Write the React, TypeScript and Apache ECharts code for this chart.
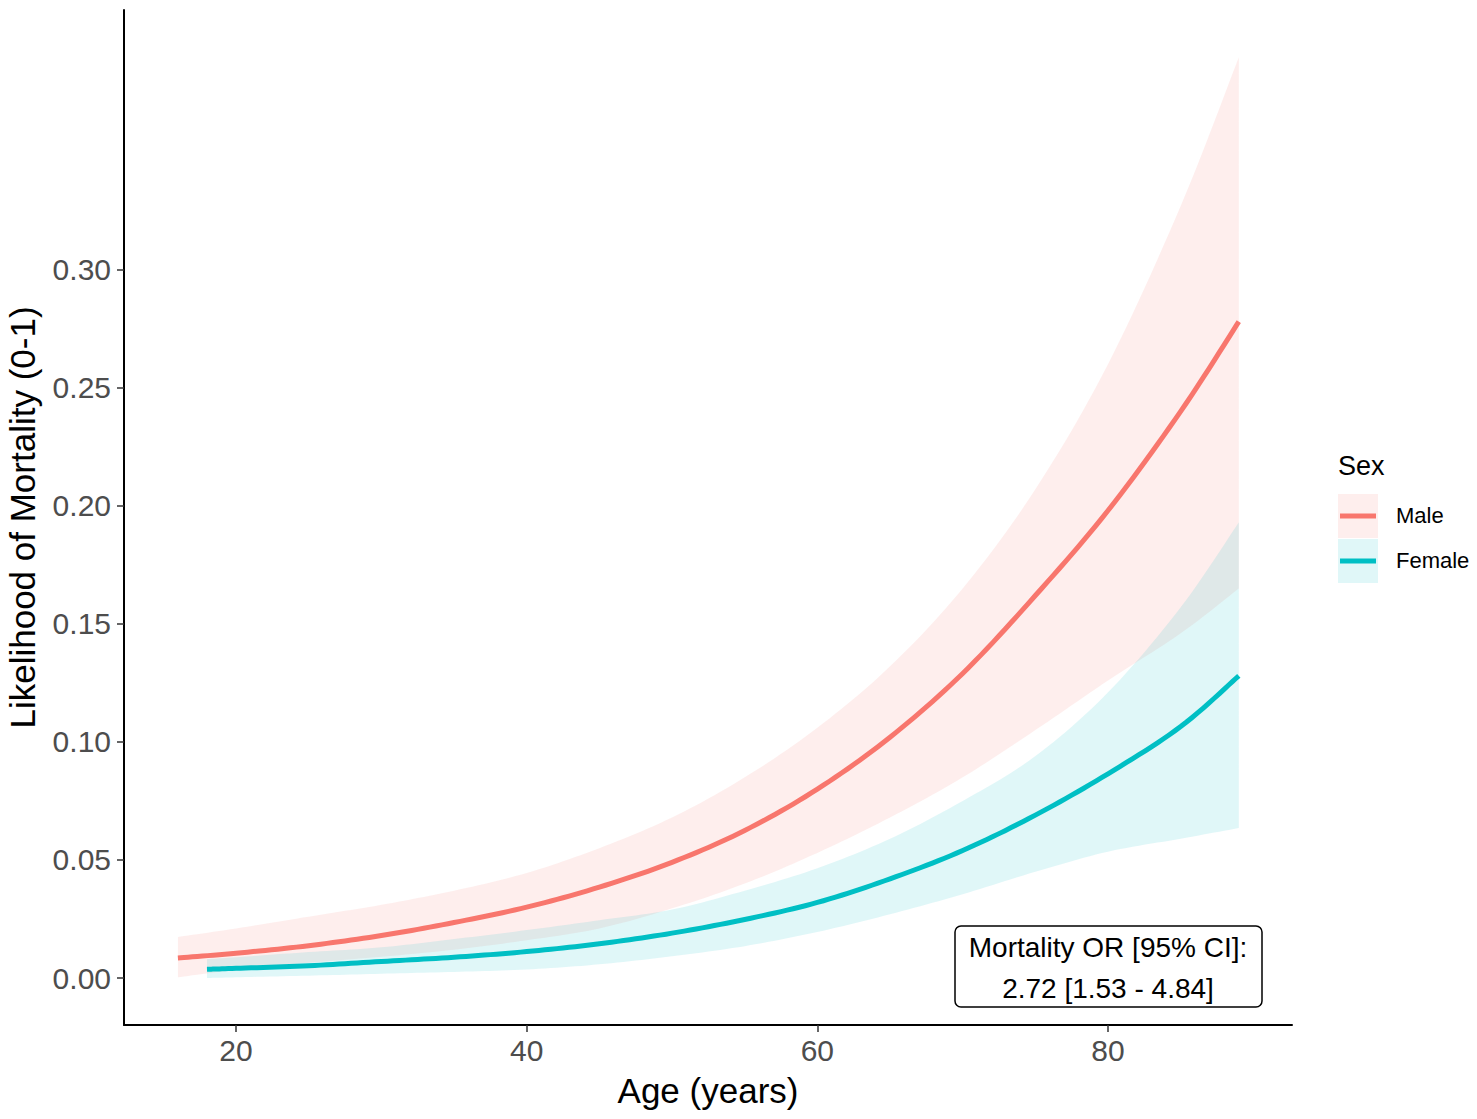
import React, { useEffect, useRef } from "react";
import * as echarts from "echarts";

// ---- data ----
const maleAges = [16, 20, 25, 30, 35, 40, 45, 50, 55, 60, 65, 70, 75, 80, 85, 89];
const maleFit = [0.0085, 0.0105, 0.0137, 0.018, 0.0235, 0.03, 0.0385, 0.049, 0.0625, 0.08, 0.102, 0.129, 0.162, 0.198, 0.24, 0.278];
const maleUpper = [0.0174, 0.021, 0.026, 0.031, 0.037, 0.0445, 0.055, 0.068, 0.085, 0.106, 0.132, 0.165, 0.207, 0.26, 0.327, 0.39];
const maleLower = [0.0003, 0.0035, 0.0065, 0.009, 0.012, 0.016, 0.021, 0.0295, 0.04, 0.053, 0.068, 0.085, 0.105, 0.126, 0.146, 0.165];

const femaleAges = [18, 20, 25, 30, 35, 40, 45, 50, 55, 60, 65, 70, 75, 80, 85, 89];
const femaleFit = [0.0037, 0.0041, 0.0052, 0.007, 0.0088, 0.0112, 0.0145, 0.019, 0.0248, 0.032, 0.042, 0.054, 0.069, 0.0865, 0.1065, 0.128];
const femaleUpper = [0.008, 0.0088, 0.011, 0.013, 0.0165, 0.0203, 0.0245, 0.029, 0.037, 0.0465, 0.059, 0.075, 0.094, 0.121, 0.157, 0.193];
const femaleLower = [0.0, 0.0003, 0.001, 0.0018, 0.0026, 0.0036, 0.0058, 0.0092, 0.0135, 0.0195, 0.027, 0.0355, 0.045, 0.0535, 0.059, 0.0635];

const xTicks = [20, 40, 60, 80];
const yTicks = [0, 0.05, 0.1, 0.15, 0.2, 0.25, 0.3];

const MALE = "#F8766D";
const FEMALE = "#00BFC4";
const MALE_FILL = "rgba(248,118,109,0.12)";
const FEMALE_FILL = "rgba(0,191,196,0.12)";
const FONT = "'Liberation Sans', Arial, sans-serif";

// Catmull-Rom curve through pixel points (rendering only: smooth outline of a band or line)
function curve(pts: number[][], steps = 12): number[][] {
  const out: number[][] = [];
  for (let i = 0; i < pts.length - 1; i++) {
    const p0 = pts[i - 1] || pts[i];
    const p1 = pts[i];
    const p2 = pts[i + 1];
    const p3 = pts[i + 2] || pts[i + 1];
    for (let s = 0; s < steps; s++) {
      const t = s / steps;
      const t2 = t * t;
      const t3 = t2 * t;
      const f = (a: number, b: number, c: number, d: number) =>
        0.5 * (2 * b + (-a + c) * t + (2 * a - 5 * b + 4 * c - d) * t2 + (-a + 3 * b - 3 * c + d) * t3);
      out.push([f(p0[0], p1[0], p2[0], p3[0]), f(p0[1], p1[1], p2[1], p3[1])]);
    }
  }
  out.push(pts[pts.length - 1]);
  return out;
}

function ribbon(name: string, ages: number[], lower: number[], upper: number[], fill: string) {
  return {
    type: "custom",
    name,
    silent: true,
    z: 1,
    data: [[ages[0], lower[0]]],
    renderItem: (_params: any, api: any) => {
      const up = curve(ages.map((a, i) => api.coord([a, upper[i]])));
      const lo = curve(ages.map((a, i) => api.coord([a, lower[i]])));
      const pts = up.concat(lo.reverse());
      return { type: "polygon", shape: { points: pts }, style: { fill, stroke: "none" } };
    },
  };
}

function fitLine(name: string, ages: number[], vals: number[], color: string) {
  return {
    type: "custom",
    name,
    silent: true,
    z: 3,
    data: [[ages[0], vals[0]]],
    renderItem: (_params: any, api: any) => {
      const pts = curve(ages.map((a, i) => api.coord([a, vals[i]])));
      return {
        type: "polyline",
        shape: { points: pts },
        style: { stroke: color, lineWidth: 5, fill: "none", lineCap: "butt", lineJoin: "round" },
      };
    },
  };
}

export default function App() {
  const ref = useRef<HTMLDivElement>(null);
  useEffect(() => {
    if (!ref.current) return;
    const chart = echarts.init(ref.current, undefined, { renderer: "svg" });
    const axisText = { color: "#4D4D4D", fontSize: 30, fontFamily: FONT };
    chart.setOption({
      animation: false,
      backgroundColor: "#ffffff",
      grid: { left: 124, right: 185, top: 10, bottom: 94, containLabel: false, outerBoundsMode: "none" },
      xAxis: {
        type: "value",
        min: 12.29,
        max: 92.66,
        name: "Age (years)",
        nameLocation: "middle",
        nameGap: 48,
        nameTextStyle: { color: "#000", fontSize: 35, fontFamily: FONT },
        axisLine: { show: true, onZero: false, lineStyle: { color: "#000", width: 2 } },
        axisTick: { show: true, length: 7, customValues: xTicks, lineStyle: { color: "#333", width: 1.5 } },
        axisLabel: { ...axisText, margin: 10, customValues: xTicks, formatter: (v: number) => String(v) },
        splitLine: { show: false },
      },
      yAxis: {
        type: "value",
        min: -0.0199,
        max: 0.41,
        name: "Likelihood of Mortality (0-1)",
        nameLocation: "middle",
        nameRotate: 90,
        nameGap: 84,
        nameTextStyle: { color: "#000", fontSize: 35, fontFamily: FONT },
        axisLine: { show: true, onZero: false, lineStyle: { color: "#000", width: 2 } },
        axisTick: { show: true, length: 7, customValues: yTicks, lineStyle: { color: "#333", width: 1.5 } },
        axisLabel: { ...axisText, margin: 13, customValues: yTicks, formatter: (v: number) => v.toFixed(2) },
        splitLine: { show: false },
      },
      series: [
        ribbon("Male CI", maleAges, maleLower, maleUpper, MALE_FILL),
        ribbon("Female CI", femaleAges, femaleLower, femaleUpper, FEMALE_FILL),
        fitLine("Male", maleAges, maleFit, MALE),
        fitLine("Female", femaleAges, femaleFit, FEMALE),
      ],
      graphic: [
        // legend
        { type: "text", left: 1338, top: 452, style: { text: "Sex", fontSize: 27, fontFamily: FONT, fill: "#000" } },
        { type: "rect", shape: { x: 1338, y: 494, width: 40, height: 44 }, style: { fill: MALE_FILL } },
        { type: "line", shape: { x1: 1340, y1: 516, x2: 1376, y2: 516 }, style: { stroke: MALE, lineWidth: 5 } },
        { type: "text", left: 1396, top: 504, style: { text: "Male", fontSize: 22, fontFamily: FONT, fill: "#000" } },
        { type: "rect", shape: { x: 1338, y: 539, width: 40, height: 44 }, style: { fill: FEMALE_FILL } },
        { type: "line", shape: { x1: 1340, y1: 561, x2: 1376, y2: 561 }, style: { stroke: FEMALE, lineWidth: 5 } },
        { type: "text", left: 1396, top: 549, style: { text: "Female", fontSize: 22, fontFamily: FONT, fill: "#000" } },
        // annotation box
        {
          type: "rect",
          z: 10,
          shape: { x: 955, y: 926, width: 307, height: 81, r: 6 },
          style: { fill: "#fff", stroke: "#000", lineWidth: 1.5 },
        },
        {
          type: "text",
          z: 11,
          x: 1108,
          y: 947,
          style: { text: "Mortality OR [95% CI]:", fontSize: 28, fontFamily: FONT, fill: "#000", align: "center", verticalAlign: "middle" },
        },
        {
          type: "text",
          z: 11,
          x: 1108,
          y: 988,
          style: { text: "2.72 [1.53 - 4.84]", fontSize: 28, fontFamily: FONT, fill: "#000", align: "center", verticalAlign: "middle" },
        },
      ],
    });
    return () => chart.dispose();
  }, []);
  return <div ref={ref} style={{ position: "fixed", left: 0, top: 0, width: 1477, height: 1119 }} />;
}
